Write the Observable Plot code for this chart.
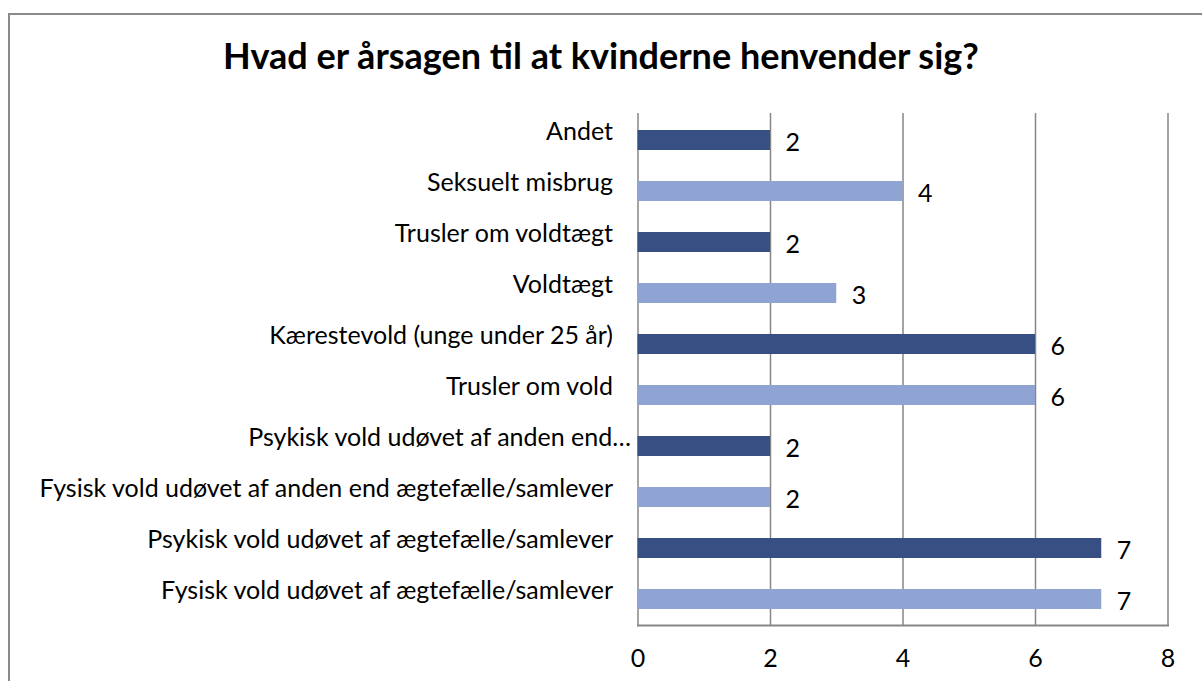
<!DOCTYPE html>
<html><head><meta charset="utf-8">
<script src="https://cdn.jsdelivr.net/npm/d3@7"></script>
<script src="https://cdn.jsdelivr.net/npm/@observablehq/plot@0.6"></script>
<style>
html,body{margin:0;padding:0;background:#fff;overflow:hidden;}
#wrap{position:relative;width:1202px;height:681px;}
#frame{position:absolute;left:8px;top:13px;width:1300px;height:800px;border-top:2px solid #8a8a8a;border-left:2px solid #8a8a8a;}
#title{position:relative;height:85px;box-sizing:border-box;padding-top:35px;padding-left:0px;text-align:center;font:bold 36px/40px Lato,sans-serif;color:#000;}
#chart{position:relative;}
</style></head><body>
<div id="wrap"><div id="frame"></div><div id="title">Hvad er årsagen til at kvinderne henvender sig?</div><div id="chart"></div></div>
<script>
const categories = [
  "Andet",
  "Seksuelt misbrug",
  "Trusler om voldtægt",
  "Voldtægt",
  "Kærestevold (unge under 25 år)",
  "Trusler om vold",
  "Psykisk vold udøvet af anden end…",
  "Fysisk vold udøvet af anden end ægtefælle/samlever",
  "Psykisk vold udøvet af ægtefælle/samlever",
  "Fysisk vold udøvet af ægtefælle/samlever"
];
const values = [2, 4, 2, 3, 6, 6, 2, 2, 7, 7];
const seriesOf = ["A", "B", "A", "B", "A", "B", "A", "B", "A", "B"];
const seriesNames = ["A", "B"];
const seriesColors = ["#384f83", "#8fa4d2"];
const xTicks = [0, 2, 4, 6, 8];

const data = categories.map((c, i) => ({category: c, value: values[i], series: seriesOf[i]}));
const truncated = categories.filter(c => c.endsWith("…"));
const normal = categories.filter(c => !c.endsWith("…"));

const plot = Plot.plot({
  width: 1202, height: 596,
  marginLeft: 637.5, marginRight: 34.5, marginTop: 28, marginBottom: 56,
  style: {background: "transparent", fontFamily: "Lato, sans-serif", fontSize: "25px", color: "#000", overflow: "visible"},
  x: {domain: [0, 8], ticks: xTicks},
  y: {domain: categories, paddingInner: 0.61, paddingOuter: 0.305},
  color: {domain: seriesNames, range: seriesColors},
  marks: [
    Plot.gridX(xTicks, {stroke: "#868686", strokeOpacity: 1, strokeWidth: 1.5}),
    Plot.barX(data, {x: "value", y: "category", fill: "series"}),
    Plot.frame({anchor: "bottom", stroke: "#868686", strokeWidth: 2}),
    Plot.axisX(xTicks, {tickSize: 0, tickPadding: 24, label: null}),
    Plot.axisY(normal, {tickSize: 0, tickPadding: 25, dy: -9, label: null}),
    Plot.axisY(truncated, {tickSize: 0, tickPadding: 7, dy: -9, label: null}),
    Plot.text(data, {x: "value", y: "category", text: d => String(d.value), textAnchor: "start", dx: 15, dy: 2})
  ]
});
document.getElementById("chart").appendChild(plot);
</script>
</body></html>
